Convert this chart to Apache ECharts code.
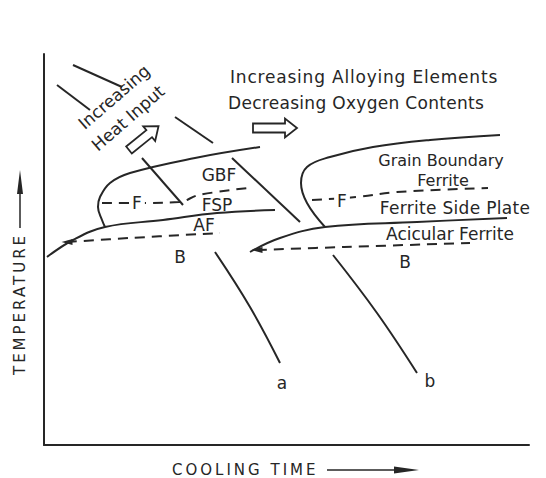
<!DOCTYPE html>
<html>
<head>
<meta charset="utf-8">
<script src="https://cdn.jsdelivr.net/npm/echarts@6/dist/echarts.min.js"></script>
<style>
html,body{margin:0;padding:0;background:#fff;}
#main{width:546px;height:478px;}
</style>
</head>
<body>
<div id="main"></div>
<script>
// Schematic CCT diagram; x = cooling time (arb.), y = temperature (arb.)
const upperLeft = [[216,298],[151,287],[86,272],[66,262],[56,248],[54,238],[58,225],[61,218]];
const lowerLeft = [[231,235],[173,232],[119,225],[61,218],[29,205],[3,188]];
const ferriteLeft = [[58,242],[90,242],[135,243],[155,250],[204,257]];
const bainiteLeft = [[23,203],[86,207],[176,212]];

const upperRight = [[456,310],[386,305],[329,298],[286,288],[263,278],[257,262],[263,242],[281,218]];
const lowerRight = [[463,227],[373,223],[281,218],[236,207],[206,193]];
const ferriteRight = [[268,245],[313,248],[353,253],[444,257]];
const bainiteRight = [[213,195],[300,198],[426,202]];

const coolingA = [
  [[13,360],[46,335]],
  [[98,287],[139,240]],
  [[171,193],[206,138],[236,82]]
];
const coolingB = [
  [[29,380],[78,358]],
  [[131,328],[169,302]],
  [[188,287],[256,223]],
  [[289,190],[333,132],[373,72]]
];

const INK = '#262626';
const FONT = '"DejaVu Sans", sans-serif';

function solid(data){
  return {type:'line', data:data, smooth:0.4, symbol:'none', silent:true,
    lineStyle:{color:INK, width:2}};
}
function dashed(data, arrowStart){
  const d = data.map((p,i)=> (i===0 && arrowStart) ?
     {value:p, symbol:'triangle', symbolSize:[6,11], symbolRotate:90, itemStyle:{color:INK}} :
     {value:p, symbol:'none'});
  return {type:'line', data:d, smooth:0.4, showSymbol:true, silent:true,
    lineStyle:{color:INK, width:2, type:[10,7]}};
}

const series = [
  solid(upperLeft), solid(lowerLeft), dashed(ferriteLeft,false), dashed(bainiteLeft,true),
  solid(upperRight), solid(lowerRight), dashed(ferriteRight,false), dashed(bainiteRight,true)
];
coolingA.forEach(s=>series.push(solid(s)));
coolingB.forEach(s=>series.push(solid(s)));

function txt(text, x, y, opts){
  opts = opts || {};
  return {type:'text', x:x, y:y, rotation:opts.rotation||0, z:10,
    style:{text:text, fill:INK, font:(opts.size||17)+'px '+FONT,
      align:opts.align||'center', verticalAlign:'middle',
      backgroundColor:opts.bg||'transparent', padding:opts.pad||0}};
}
function hollowArrow(x, y, len, rot){
  const h = len - 12;
  return {type:'polygon', x:x, y:y, rotation:rot, z:10,
    shape:{points:[[0,-4.5],[h,-4.5],[h,-9.5],[len,0],[h,9.5],[h,4.5],[0,4.5]]},
    style:{fill:'#fff', stroke:INK, lineWidth:1.8}};
}

const deg = Math.PI/180;
const graphics = [
  txt('Increasing Alloying Elements', 230, 77, {align:'left'}),
  txt('Decreasing Oxygen Contents', 228, 103, {align:'left'}),
  hollowArrow(253, 128, 44, 0),
  txt('Increasing', 114, 97, {rotation:41*deg}),
  txt('Heat Input', 128, 118, {rotation:41*deg}),
  hollowArrow(129, 150, 38, 39*deg),
  txt('GBF', 219, 175),
  txt('F', 137, 203, {bg:'#fff', pad:[0,3]}),
  txt('FSP', 217, 205),
  txt('AF', 204, 225),
  txt('B', 180, 257),
  txt('Grain Boundary', 441, 160, {size:16}),
  txt('Ferrite', 443, 180, {size:16}),
  txt('F', 342, 201, {bg:'#fff', pad:[0,3]}),
  txt('Ferrite Side Plate', 455, 208),
  txt('Acicular Ferrite', 450, 234),
  txt('B', 405, 262),
  txt('a', 282, 383),
  txt('b', 430, 381),
  // axis titles
  txt('TEMPERATURE', 20, 304, {size:15, rotation:90*deg}),
  {type:'line', shape:{x1:20,y1:228,x2:20,y2:192}, style:{stroke:INK, lineWidth:1.5}},
  {type:'polygon', shape:{points:[[20,170],[17,194],[23,194]]}, style:{fill:INK}},
  txt('COOLING TIME', 172, 470, {size:15, align:'left'}),
  {type:'line', shape:{x1:327,y1:470,x2:398,y2:470}, style:{stroke:INK, lineWidth:1.5}},
  {type:'polygon', shape:{points:[[419,470],[394,466.5],[394,473.5]]}, style:{fill:INK}}
];

const chart = echarts.init(document.getElementById('main'), null, {renderer:'svg'});
chart.setOption({
  animation:false,
  backgroundColor:'#fff',
  grid:{left:44, top:54, width:485, height:391},
  xAxis:{type:'value', min:0, max:485, axisLine:{show:true, lineStyle:{color:INK, width:2}},
    axisTick:{show:false}, axisLabel:{show:false}, splitLine:{show:false}},
  yAxis:{type:'value', min:0, max:391, axisLine:{show:true, lineStyle:{color:INK, width:2}},
    axisTick:{show:false}, axisLabel:{show:false}, splitLine:{show:false}},
  series:series,
  graphic:graphics
});
const SPACING = {
  'TEMPERATURE':'3px', 'COOLING TIME':'3px',
  'Increasing Alloying Elements':'0.8px', 'Decreasing Oxygen Contents':'0.3px',
  'Ferrite Side Plate':'0.3px'
};
function spacing(){
  document.querySelectorAll('#main svg text').forEach(t=>{
    const s = SPACING[t.textContent];
    if (s) t.style.letterSpacing = s;
  });
}
spacing();
chart.on('finished', spacing);
</script>
</body>
</html>
